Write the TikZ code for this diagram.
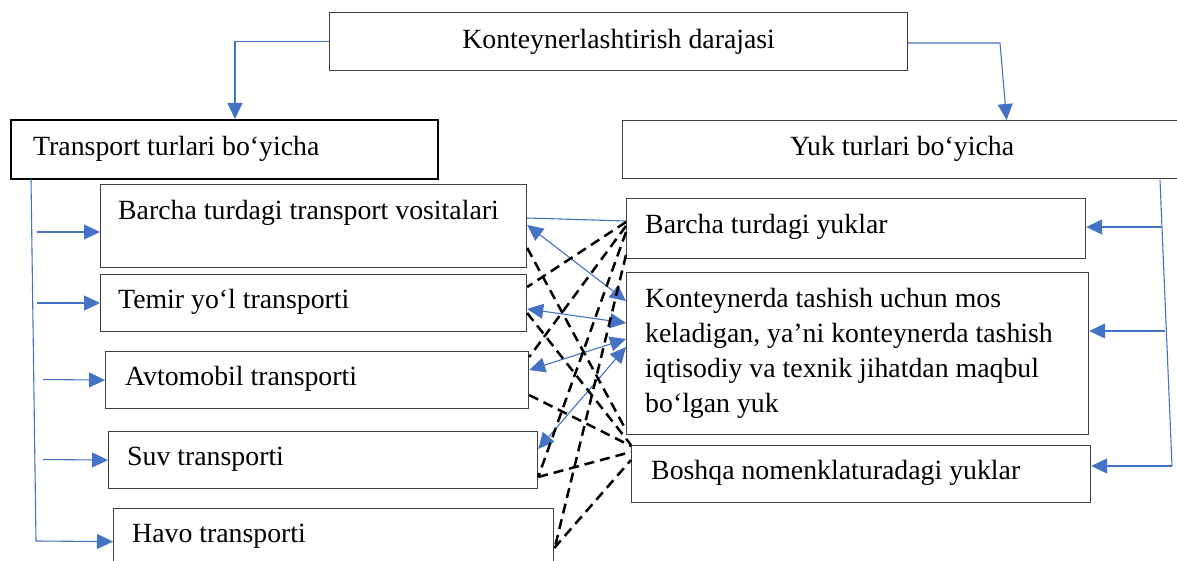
\documentclass[tikz,border=0pt]{standalone}
\usepackage{fontspec}
\setmainfont{Liberation Serif}
\usetikzlibrary{arrows.meta}
\definecolor{lnblue}{RGB}{68,114,196}
\definecolor{boxgray}{RGB}{64,64,64}
\begin{document}
\begin{tikzpicture}[x=1pt,y=-1pt,
  box/.style={draw=boxgray, line width=1.2pt, rectangle, inner sep=0pt, anchor=north west},
  txt/.style={font=\fontsize{27.8}{35}\selectfont},
  lbl/.style={txt, anchor=west, inner sep=0pt},
  bl/.style={draw=lnblue, line width=1.1pt},
  tipb/.tip={Triangle[length=16pt,width=15pt]},
  barrow/.style={bl, -tipb},
  dbarrow/.style={bl, tipb-tipb},
  dsh/.style={draw=black, line width=2.5pt, dash pattern=on 10pt off 6pt}]
\useasboundingbox (0,0) rectangle (1177,561);
\clip (0,0) rectangle (1177,561);

% boxes
\node[box, txt, minimum width=578pt, minimum height=58pt] (top) at (329,12) {Konteynerlashtirish darajasi};
\node[box, draw=black, line width=2pt, minimum width=427pt, minimum height=59pt] (tt) at (10,119) {};
\node[lbl] (ttl) at (33,149) {Transport turlari bo‘yicha};
\node[box, minimum width=768pt, minimum height=58pt] (yt) at (622,120) {};
\node[lbl] (ytl) at (790,149) {Yuk turlari bo‘yicha};

\node[box, minimum width=426pt, minimum height=83pt] (bt) at (100,184) {};
\node[lbl] (btl) at (118,213) {Barcha turdagi transport vositalari};
\node[box, minimum width=426pt, minimum height=57pt] (tm) at (100,274) {};
\node[lbl] (tml) at (118,302) {Temir yo‘l transporti};
\node[box, minimum width=423pt, minimum height=57pt] (av) at (105,351) {};
\node[lbl] (avl) at (125,379) {Avtomobil transporti};
\node[box, minimum width=429pt, minimum height=57pt] (sv) at (108,431) {};
\node[lbl] (svl) at (127,459) {Suv transporti};
\node[box, minimum width=440pt, minimum height=66pt] (hv) at (113,508) {};
\node[lbl] (hvl) at (132,536) {Havo transporti};

\node[box, minimum width=459pt, minimum height=60pt] (by) at (626,198) {};
\node[lbl] (byl) at (645,227) {Barcha turdagi yuklar};
\node[box, minimum width=462pt, minimum height=162pt] (kt) at (626,272) {};
\node[lbl, align=left] (ktl) at (645,353) {Konteynerda tashish uchun mos\\keladigan, ya’ni konteynerda tashish\\iqtisodiy va texnik jihatdan maqbul\\bo‘lgan yuk};
\node[box, minimum width=459pt, minimum height=57pt] (bo) at (631,445) {};
\node[lbl] (bol) at (651,473) {Boshqa nomenklaturadagi yuklar};

% top connectors
\draw[barrow] (top.west) -| ([xshift=10.5pt]tt.north);
\coordinate (tr1) at (1000,43);
\draw[barrow] (top.east |- tr1) -- (tr1) -- (yt.north);

% left trunk
\coordinate (lt1) at (31,179);
\coordinate (lt2) at (36,541);
\draw[bl] (lt1) -- (lt2);
\draw[barrow] (lt2) -- (hv.west);
\coordinate (lb1) at (37,232);
\coordinate (lb2) at (37,303);
\coordinate (lb3) at (43,379.5);
\coordinate (lb4) at (43,459.5);
\draw[barrow] (lb1) -- (bt.west |- lb1);
\draw[barrow] (lb2) -- (tm.west |- lb2);
\draw[barrow] (lb3) -- (av.west);
\draw[barrow] (lb4) -- (sv.west);

% right trunk
\coordinate (rt1) at (1160,180);
\coordinate (rt2) at (1172,466);
\draw[bl] (rt1) -- (rt2);
\coordinate (rb1) at (1161,227);
\coordinate (rb2) at (1165,331);
\draw[barrow] (rb1) -- (by.east |- rb1);
\draw[barrow] (rb2) -- (kt.east |- rb2);
\draw[barrow] (rt2) -- (bo.east |- rt2);

% blue middle connectors
\draw[bl] (bt.east |- 0,218) -- (by.west |- 0,221);
\draw[dbarrow] (bt.east |- 0,225) -- (kt.west |- 0,301);
\draw[dbarrow] (tm.east |- 0,309) -- (kt.west |- 0,323);
\draw[dbarrow] (av.east |- 0,370) -- (kt.west |- 0,339);
\draw[dbarrow] (sv.east |- 0,449) -- (kt.west |- 0,347);

% dashed connectors
\draw[dsh] (by.west |- 0,222) -- (tm.east |- 0,287);
\draw[dsh] (by.west |- 0,226) -- (av.east |- 0,357);
\draw[dsh] (by.west |- 0,232) -- (sv.east |- 0,477);
\draw[dsh] (by.west |- 0,255) -- (hv.east |- 0,550);
\draw[dsh] (bt.east |- 0,248) -- (kt.west |- 0,430);
\draw[dsh] (tm.east |- 0,313) -- (bo.west |- 0,445);
\draw[dsh] (av.east |- 0,395) -- (bo.west |- 0,446);
\draw[dsh] (sv.east |- 0,477) -- (bo.west |- 0,452);
\draw[dsh] (hv.east |- 0,548) -- (bo.west |- 0,460);
\end{tikzpicture}
\end{document}
